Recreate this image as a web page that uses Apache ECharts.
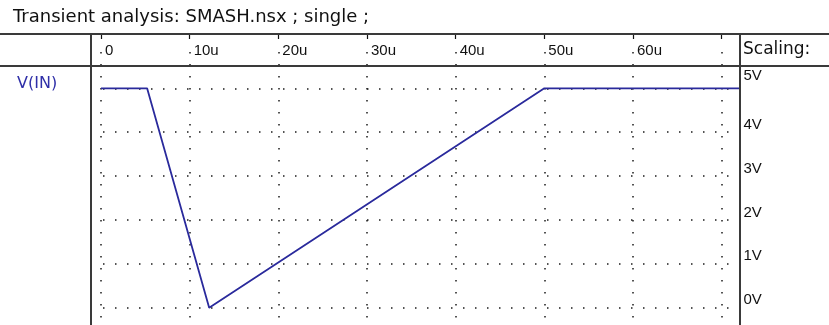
<!DOCTYPE html>
<html>
<head>
<meta charset="utf-8">
<script src="https://cdn.jsdelivr.net/npm/echarts@6/dist/echarts.min.js"></script>
<style>
  html, body { margin: 0; padding: 0; background: #fff; }
  #chart { width: 829px; height: 325px; }
</style>
</head>
<body>
<div id="chart"></div>
<script>
// Transient waveform of the input node: time in microseconds, voltage in volts
const timeUs = [0, 5.2, 12.2, 50, 72];
const vIn = [5, 5, 0, 5, 5];

// Axis ticks and their printed labels
const timeTicks = [0, 10, 20, 30, 40, 50, 60, 70];
const timeTickLabels = ['0', '10u', '20u', '30u', '40u', '50u', '60u', ''];
const voltTicks = [0, 1, 2, 3, 4, 5];
const voltTickLabels = ['0V', '1V', '2V', '3V', '4V', '5V'];

const seriesName = 'V(IN)';
const titleText = 'Transient analysis: SMASH.nsx ; single ;';
const scaleHeader = 'Scaling:';

const FONT = '"Liberation Sans", Arial, sans-serif';
const WIDE = '"DejaVu Sans", Verdana, sans-serif';
const INK = '#111';
const DOT = '#1c1c1c';
const FRAME = '#3a3a3a';
const TRACE = '#2a2a9c';

const chart = echarts.init(document.getElementById('chart'), null, { renderer: 'canvas' });

function labelFor(ticks, labels) {
  return function (v) {
    const i = ticks.findIndex(t => Math.abs(t - v) < 1e-9);
    return i < 0 ? '' : labels[i];
  };
}

const voltLabel = labelFor(voltTicks, voltTickLabels);
const topVolt = voltTicks[voltTicks.length - 1];

chart.setOption({
  animation: false,
  backgroundColor: '#fff',
  title: {
    text: titleText,
    left: 8,
    top: 3,
    textStyle: { fontFamily: WIDE, fontSize: 18, fontWeight: 'normal', color: INK }
  },
  legend: {
    data: [{ name: seriesName, icon: 'none' }],
    left: 7,
    top: 71,
    itemWidth: 0,
    itemGap: 0,
    selectedMode: false,
    textStyle: { fontFamily: WIDE, fontSize: 16, color: '#2f2fa8', padding: 0 }
  },
  grid: {
    left: 101,
    top: 44.4,
    width: 638.4,
    height: 307.2,
    containLabel: false,
    outerBoundsMode: 'none'
  },
  xAxis: {
    type: 'value',
    min: 0,
    max: 72,
    interval: 10,
    position: 'top',
    offset: 10.4,
    axisLine: { show: false, onZero: false },
    axisTick: { show: true, inside: true, length: 5, lineStyle: { color: INK, width: 1.2 } },
    axisLabel: {
      inside: true,
      margin: 9,
      align: 'left',
      padding: [0, 0, 0, 4],
      showMaxLabel: false,
      fontFamily: FONT,
      fontSize: 15,
      color: INK,
      formatter: labelFor(timeTicks, timeTickLabels)
    },
    splitLine: {
      show: true,
      showMaxLine: false,
      lineStyle: { color: DOT, width: 1.5, type: [1.5, 10.5], dashOffset: 4.4 }
    }
  },
  yAxis: {
    type: 'value',
    min: -1,
    max: 6,
    interval: 1,
    position: 'right',
    axisLine: { show: false, onZero: false },
    axisTick: { show: false },
    axisLabel: {
      margin: 4,
      verticalAlign: 'bottom',
      showMinLabel: false,
      showMaxLabel: false,
      fontFamily: FONT,
      fontSize: 15,
      color: INK,
      formatter: function (v) {
        const s = voltLabel(v);
        // the top label sits a little higher, just under the header rule
        return Math.abs(v - topVolt) < 1e-9 ? '{hi|' + s + '}' : s;
      },
      rich: {
        hi: { fontFamily: FONT, fontSize: 15, color: INK, padding: [0, 0, 5, 0] }
      }
    },
    splitLine: {
      show: true,
      showMinLine: false,
      showMaxLine: false,
      lineStyle: { color: DOT, width: 1.5, type: [1.5, 10.5], dashOffset: -2 }
    }
  },
  graphic: [
    { type: 'line', shape: { x1: 0, y1: 34, x2: 829, y2: 34 }, style: { stroke: FRAME, lineWidth: 2 }, z: 100 },
    { type: 'line', shape: { x1: 0, y1: 66, x2: 829, y2: 66 }, style: { stroke: FRAME, lineWidth: 2 }, z: 100 },
    { type: 'line', shape: { x1: 91, y1: 34, x2: 91, y2: 325 }, style: { stroke: FRAME, lineWidth: 2 }, z: 100 },
    { type: 'line', shape: { x1: 740, y1: 34, x2: 740, y2: 325 }, style: { stroke: FRAME, lineWidth: 2 }, z: 100 },
    {
      type: 'text', left: 743, top: 41, z: 100,
      style: { text: scaleHeader, font: '17px ' + WIDE, fill: INK }
    }
  ],
  series: [{
    name: seriesName,
    type: 'line',
    data: timeUs.map((t, i) => [t, vIn[i]]),
    showSymbol: false,
    clip: true,
    lineStyle: { color: TRACE, width: 1.8 },
    itemStyle: { color: TRACE },
    z: 10
  }]
});
</script>
</body>
</html>
